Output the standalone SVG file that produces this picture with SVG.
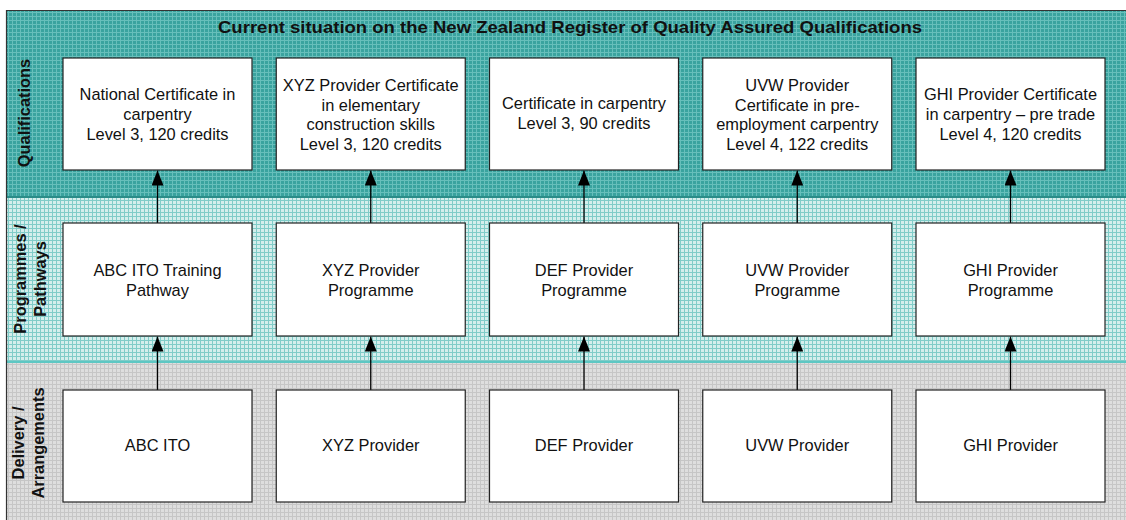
<svg xmlns="http://www.w3.org/2000/svg" width="1126" height="520" viewBox="0 0 1126 520">
<defs>
<pattern id="pq" width="4" height="4" patternUnits="userSpaceOnUse">
<rect width="4" height="4" fill="#3aa39f"/>
<rect width="4" height="1" fill="#67bfbb"/>
<rect width="1" height="4" fill="#67bfbb"/>
</pattern>
<pattern id="pp" width="4" height="4" patternUnits="userSpaceOnUse">
<rect width="4" height="4" fill="#d4eeec"/>
<rect width="4" height="1" fill="#80ccc8"/>
<rect width="1" height="4" fill="#80ccc8"/>
</pattern>
<pattern id="pd" width="4" height="4" patternUnits="userSpaceOnUse">
<rect width="4" height="4" fill="#dedede"/>
<rect width="4" height="1" fill="#c6c6c6"/>
<rect width="1" height="4" fill="#c6c6c6"/>
</pattern>
<marker id="arr" viewBox="0 0 15 12" refX="15" refY="6" markerWidth="15" markerHeight="12" markerUnits="userSpaceOnUse" orient="auto">
<path d="M0,0 L15,6 L0,12 Z" fill="#000"/>
</marker>
</defs>
<style>
.box{fill:#fff;stroke:#222;stroke-width:1.2}
.t{font-family:"Liberation Sans",Arial,sans-serif;font-size:16.4px;fill:#111;text-anchor:middle}
.b{font-family:"Liberation Sans",Arial,sans-serif;font-size:16.4px;font-weight:bold;fill:#111;text-anchor:middle}
.title{font-family:"Liberation Sans",Arial,sans-serif;font-size:17px;font-weight:bold;fill:#111;text-anchor:middle}
.con{stroke:#000;stroke-width:1.3;fill:none;marker-end:url(#arr)}
</style>
<rect width="1126" height="520" fill="#fff"/>
<g id="bands">
<rect x="6" y="10" width="1121" height="187" fill="url(#pq)"/>
<rect x="6" y="197" width="1121" height="165" fill="url(#pp)"/>
<rect x="6" y="362" width="1121" height="159" fill="url(#pd)"/>
<line x1="6" y1="197" x2="1126" y2="197" stroke="#2b8c88" stroke-width="2"/>
<line x1="6" y1="362" x2="1126" y2="362" stroke="#5ec7c3" stroke-width="2"/>
<line x1="6" y1="10.5" x2="1126" y2="10.5" stroke="#333" stroke-width="1.2"/>
<line x1="6.5" y1="10" x2="6.5" y2="520" stroke="#333" stroke-width="1.2"/>
<text class="title" x="570" y="32.5" textLength="704" lengthAdjust="spacingAndGlyphs">Current situation on the New Zealand Register of Quality Assured Qualifications</text>
<text class="b" transform="translate(30,113) rotate(-90)">Qualifications</text>
<text class="b" transform="translate(26,279) rotate(-90)">Programmes /</text>
<text class="b" transform="translate(46,279) rotate(-90)">Pathways</text>
<text class="b" transform="translate(24,443) rotate(-90)">Delivery /</text>
<text class="b" transform="translate(44,443) rotate(-90)">Arrangements</text>
</g>
<g id="connectors">
<line class="con" x1="157.5" y1="223" x2="157.5" y2="170.5"/>
<line class="con" x1="370.75" y1="223" x2="370.75" y2="170.5"/>
<line class="con" x1="584" y1="223" x2="584" y2="170.5"/>
<line class="con" x1="797.25" y1="223" x2="797.25" y2="170.5"/>
<line class="con" x1="1010.5" y1="223" x2="1010.5" y2="170.5"/>
<line class="con" x1="157.5" y1="390" x2="157.5" y2="336.5"/>
<line class="con" x1="370.75" y1="390" x2="370.75" y2="336.5"/>
<line class="con" x1="584" y1="390" x2="584" y2="336.5"/>
<line class="con" x1="797.25" y1="390" x2="797.25" y2="336.5"/>
<line class="con" x1="1010.5" y1="390" x2="1010.5" y2="336.5"/>
</g>
<g id="q1"><rect class="box" x="63" y="58" width="189" height="112"/>
<text class="t" x="157.5" y="100">National Certificate in</text><text class="t" x="157.5" y="120">carpentry</text><text class="t" x="157.5" y="140">Level 3, 120 credits</text></g>
<g id="q2"><rect class="box" x="276.25" y="58" width="189" height="112"/>
<text class="t" x="370.75" y="91">XYZ Provider Certificate</text><text class="t" x="370.75" y="110.7">in elementary</text><text class="t" x="370.75" y="130.4">construction skills</text><text class="t" x="370.75" y="150">Level 3, 120 credits</text></g>
<g id="q3"><rect class="box" x="489.5" y="58" width="189" height="112"/>
<text class="t" x="584" y="109">Certificate in carpentry</text><text class="t" x="584" y="129">Level 3, 90 credits</text></g>
<g id="q4"><rect class="box" x="702.75" y="58" width="189" height="112"/>
<text class="t" x="797.25" y="91">UVW Provider</text><text class="t" x="797.25" y="110.7">Certificate in pre-</text><text class="t" x="797.25" y="130.4">employment carpentry</text><text class="t" x="797.25" y="150">Level 4, 122 credits</text></g>
<g id="q5"><rect class="box" x="916" y="58" width="189" height="112"/>
<text class="t" x="1010.5" y="100">GHI Provider Certificate</text><text class="t" x="1010.5" y="120">in carpentry – pre trade</text><text class="t" x="1010.5" y="140">Level 4, 120 credits</text></g>
<g id="p1"><rect class="box" x="63" y="223" width="189" height="113"/>
<text class="t" x="157.5" y="275.5">ABC ITO Training</text><text class="t" x="157.5" y="295.5">Pathway</text></g>
<g id="p2"><rect class="box" x="276.25" y="223" width="189" height="113"/>
<text class="t" x="370.75" y="275.5">XYZ Provider</text><text class="t" x="370.75" y="295.5">Programme</text></g>
<g id="p3"><rect class="box" x="489.5" y="223" width="189" height="113"/>
<text class="t" x="584" y="275.5">DEF Provider</text><text class="t" x="584" y="295.5">Programme</text></g>
<g id="p4"><rect class="box" x="702.75" y="223" width="189" height="113"/>
<text class="t" x="797.25" y="275.5">UVW Provider</text><text class="t" x="797.25" y="295.5">Programme</text></g>
<g id="p5"><rect class="box" x="916" y="223" width="189" height="113"/>
<text class="t" x="1010.5" y="275.5">GHI Provider</text><text class="t" x="1010.5" y="295.5">Programme</text></g>
<g id="d1"><rect class="box" x="63" y="390" width="189" height="112"/>
<text class="t" x="157.5" y="451">ABC ITO</text></g>
<g id="d2"><rect class="box" x="276.25" y="390" width="189" height="112"/>
<text class="t" x="370.75" y="451">XYZ Provider</text></g>
<g id="d3"><rect class="box" x="489.5" y="390" width="189" height="112"/>
<text class="t" x="584" y="451">DEF Provider</text></g>
<g id="d4"><rect class="box" x="702.75" y="390" width="189" height="112"/>
<text class="t" x="797.25" y="451">UVW Provider</text></g>
<g id="d5"><rect class="box" x="916" y="390" width="189" height="112"/>
<text class="t" x="1010.5" y="451">GHI Provider</text></g>
</svg>
